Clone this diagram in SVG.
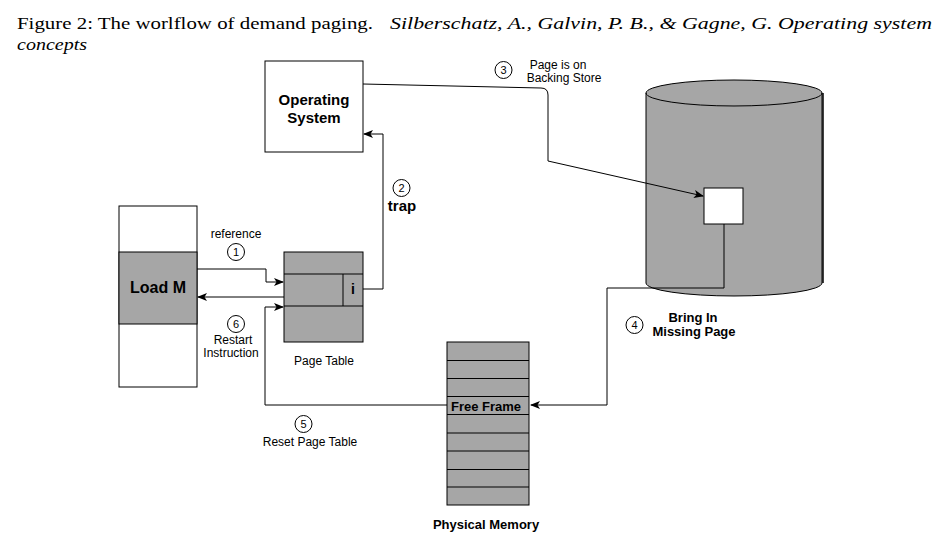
<svg xmlns="http://www.w3.org/2000/svg" width="947" height="548" viewBox="0 0 947 548">
<style>
.cap{font-family:"Liberation Serif","DejaVu Serif",serif;font-size:17.5px;fill:#000}
.it{font-style:italic}
.t{font-family:"Liberation Sans",Arial,sans-serif;font-size:12px;fill:#000;text-anchor:middle}
.b{font-family:"Liberation Sans",Arial,sans-serif;font-weight:bold;fill:#000;text-anchor:middle}
.n{font-family:"Liberation Sans",Arial,sans-serif;font-size:11px;fill:#000;text-anchor:middle}
.box{stroke:#000;stroke-width:1}
.g{fill:#A6A6A6}
.w{fill:#fff}
.c{fill:none;stroke:#000;stroke-width:1}
.num{fill:#fff;stroke:#000;stroke-width:1}
</style>
<defs>
<marker id="arr" viewBox="0 0 10 8" refX="9" refY="4" markerWidth="10" markerHeight="8" markerUnits="userSpaceOnUse" orient="auto">
<path d="M0,0 L10,4 L0,8 L2.5,4 z" fill="#000"/>
</marker>
</defs>
<rect width="947" height="548" fill="#fff"/>
<g id="caption">
<text class="cap" x="17" y="29" textLength="356" lengthAdjust="spacingAndGlyphs">Figure 2:  The worlflow of demand paging.</text>
<text class="cap it" x="390" y="29" textLength="542" lengthAdjust="spacingAndGlyphs">Silberschatz, A., Galvin, P. B., &amp; Gagne, G. Operating system</text>
<text class="cap it" x="17" y="50" textLength="70" lengthAdjust="spacingAndGlyphs">concepts</text>
</g>
<g id="load-m">
<rect class="box w" x="119" y="206" width="78" height="181"/>
<rect class="box g" x="119" y="252" width="78" height="72"/>
<text class="b" x="158" y="293" font-size="16">Load M</text>
</g>
<g id="page-table">
<rect class="box g" x="284" y="252" width="79" height="90"/>
<line class="c" x1="284" y1="274" x2="363" y2="274"/>
<line class="c" x1="284" y1="306" x2="363" y2="306"/>
<line class="c" x1="343" y1="274" x2="343" y2="306"/>
<text class="b" x="353" y="294" font-size="14">i</text>
<text class="t" x="324" y="365">Page Table</text>
</g>
<g id="operating-system">
<rect class="box w" x="265" y="61" width="98" height="91"/>
<text class="b" x="314" y="105" font-size="15">Operating</text>
<text class="b" x="314" y="123" font-size="15">System</text>
</g>
<g id="backing-store">
<path d="M646,93 L646,283 A88,13 0 0 0 822,283 L822,93 A88,13 0 0 0 646,93 Z" fill="#A6A6A6" stroke="#000" stroke-width="1"/>
<path d="M646,93 A88,13 0 0 0 822,93" fill="none" stroke="#000" stroke-width="1"/>
<line x1="823" y1="93" x2="823" y2="283" stroke="#000" stroke-width="1.5"/>
<rect class="box w" x="704" y="188" width="39" height="36"/>
</g>
<g id="physical-memory">
<rect class="box g" x="447" y="342" width="82" height="163"/>
<line class="c" x1="447" y1="360.5" x2="529" y2="360.5"/>
<line class="c" x1="447" y1="378.5" x2="529" y2="378.5"/>
<line class="c" x1="447" y1="396.5" x2="529" y2="396.5"/>
<line class="c" x1="447" y1="414.5" x2="529" y2="414.5"/>
<line class="c" x1="447" y1="433" x2="529" y2="433"/>
<line class="c" x1="447" y1="451" x2="529" y2="451"/>
<line class="c" x1="447" y1="469.5" x2="529" y2="469.5"/>
<line class="c" x1="447" y1="487" x2="529" y2="487"/>
<text class="b" x="486" y="411" font-size="13">Free Frame</text>
<text class="b" x="486" y="529" font-size="13">Physical Memory</text>
</g>
<g id="connectors">
<path class="c" d="M197,269 L266,269 L266,282 L283,282" marker-end="url(#arr)"/>
<path class="c" d="M284,297 L198,297" marker-end="url(#arr)"/>
<path class="c" d="M447,405 L265,405 L265,307 L283,307" marker-end="url(#arr)"/>
<path class="c" d="M363,289 L383,289 L383,134 L364,134" marker-end="url(#arr)"/>
<path class="c" d="M363,84 L541,88 Q548,88 548,95 L548,161 L703,196" marker-end="url(#arr)"/>
<path class="c" d="M724,224 L724,288 L607,288 L607,405 L531,405" marker-end="url(#arr)"/>
</g>
<g id="label-1">
<text class="t" x="236" y="238">reference</text>
<circle class="num" cx="236" cy="252" r="8.5"/>
<text class="n" x="236" y="256">1</text>
</g>
<g id="label-2">
<circle class="num" cx="401.5" cy="188" r="8.5"/>
<text class="n" x="401.5" y="192">2</text>
<text class="b" x="402" y="211" font-size="15">trap</text>
</g>
<g id="label-3">
<circle class="num" cx="503.5" cy="70" r="8.5"/>
<text class="n" x="503.5" y="74">3</text>
<text class="t" x="558" y="69">Page is on</text>
<text class="t" x="564" y="82">Backing Store</text>
</g>
<g id="label-4">
<circle class="num" cx="634.5" cy="325" r="8.5"/>
<text class="n" x="634.5" y="329">4</text>
<text class="b" x="693" y="322" font-size="13">Bring In</text>
<text class="b" x="694" y="336" font-size="13">Missing Page</text>
</g>
<g id="label-5">
<circle class="num" cx="303.5" cy="424" r="8.5"/>
<text class="n" x="303.5" y="428">5</text>
<text class="t" x="310" y="446">Reset Page Table</text>
</g>
<g id="label-6">
<circle class="num" cx="236" cy="324" r="8.5"/>
<text class="n" x="236" y="328">6</text>
<text class="t" x="233" y="344">Restart</text>
<text class="t" x="231" y="357">Instruction</text>
</g>
</svg>
